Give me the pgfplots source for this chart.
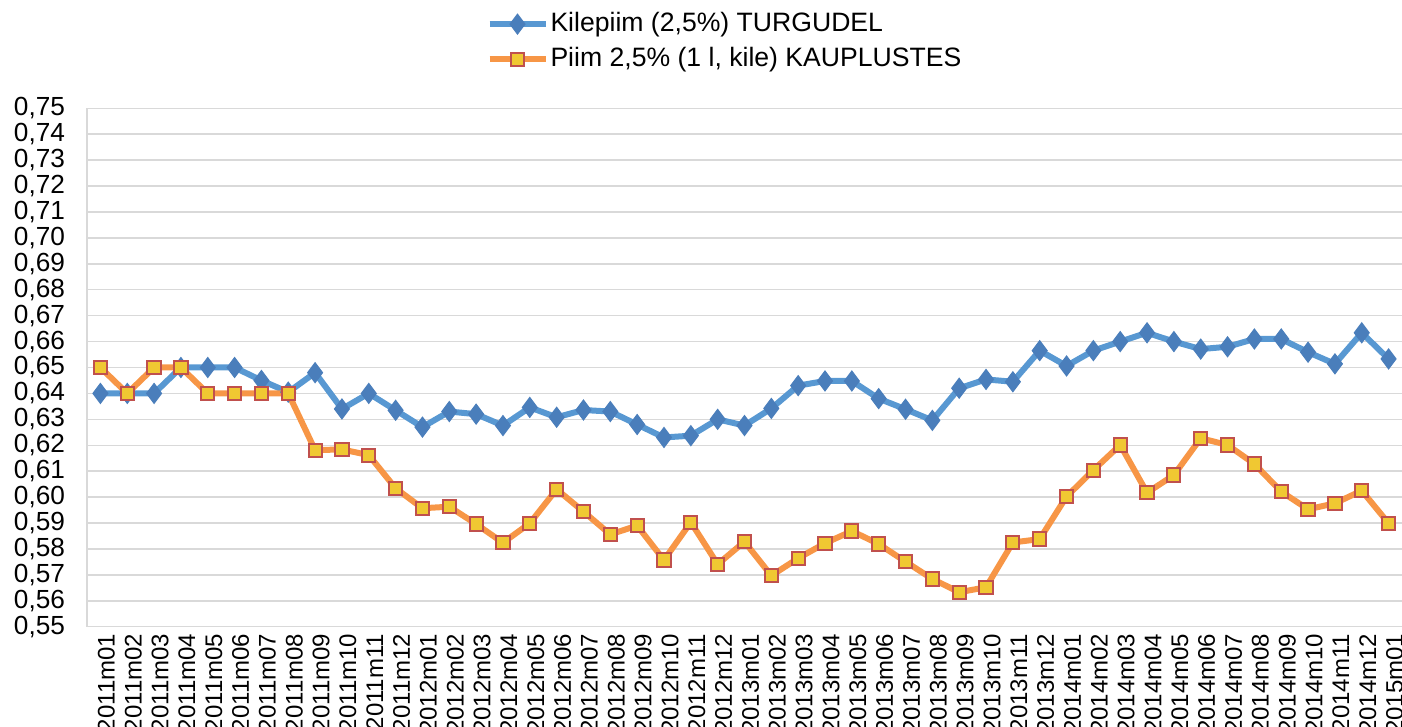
\documentclass[border=0pt]{standalone}
\usepackage{fontspec}
\setmainfont{Liberation Sans}
\usepackage{pgfplots}
\pgfplotsset{compat=1.18}
\definecolor{blueline}{RGB}{88,152,210}
\definecolor{bluemark}{RGB}{74,126,187}
\definecolor{orangeline}{RGB}{247,150,70}
\definecolor{sqfill}{RGB}{240,200,50}
\definecolor{sqdraw}{RGB}{192,80,77}
\definecolor{gridgray}{RGB}{217,217,217}
\begin{document}
\begin{tikzpicture}
\useasboundingbox (0,0) rectangle (701pt,363.5pt);
\begin{axis}[
  at={(43.5pt,50.15pt)}, anchor=south west,
  scale only axis, width=657.5pt, height=259.2pt,
  xmin=-0.5, xmax=48.5, ymin=0.55, ymax=0.75,
  clip=false,
  axis x line*=bottom, axis y line*=left,
  axis line style={draw=gridgray, line width=0.75pt, -},
  major tick length=0pt,
  ymajorgrids, grid style={draw=gridgray, line width=0.75pt},
  ytick={0.55,0.56,0.57,0.58,0.59,0.60,0.61,0.62,0.63,0.64,0.65,0.66,0.67,0.68,0.69,0.70,0.71,0.72,0.73,0.74,0.75},
  /pgf/number format/assume math mode=true,
  yticklabel style={/pgf/number format/fixed, /pgf/number format/fixed zerofill, /pgf/number format/precision=2, /pgf/number format/use comma,
    font=\fontsize{13.1}{14}\selectfont, xshift=-7.5pt},
  xtick={0,...,48},
  xticklabels={2011m01,2011m02,2011m03,2011m04,2011m05,2011m06,2011m07,2011m08,2011m09,2011m10,2011m11,2011m12,2012m01,2012m02,2012m03,2012m04,2012m05,2012m06,2012m07,2012m08,2012m09,2012m10,2012m11,2012m12,2013m01,2013m02,2013m03,2013m04,2013m05,2013m06,2013m07,2013m08,2013m09,2013m10,2013m11,2013m12,2014m01,2014m02,2014m03,2014m04,2014m05,2014m06,2014m07,2014m08,2014m09,2014m10,2014m11,2014m12,2015m01},
  xticklabel style={rotate=90, anchor=east, font=\fontsize{12}{13}\selectfont, yshift=-3pt},
  legend cell align=left,
  legend style={at={(0.3035,1.192)}, anchor=north west, draw=none, fill=none, inner sep=0pt,
    font=\fontsize{13.3}{14}\selectfont, row sep=2.5pt,
    nodes={inner sep=1pt, text height=10pt, text depth=3pt}},
  legend image code/.code={\draw[#1, mark repeat=2, mark phase=2] plot coordinates {(0pt,0pt) (14pt,0pt) (28pt,0pt)};},
]
\addplot[blueline, line width=3pt, mark=diamond*, mark size=5pt,
  mark options={fill=bluemark, draw=bluemark, line width=0.5pt}] coordinates {
(0,0.640) (1,0.640) (2,0.640) (3,0.650) (4,0.650) (5,0.650) (6,0.645) (7,0.6405)
(8,0.648) (9,0.634) (10,0.640) (11,0.6335) (12,0.627) (13,0.633) (14,0.632) (15,0.6276)
(16,0.6346) (17,0.6308) (18,0.6336) (19,0.6330) (20,0.628) (21,0.623) (22,0.6237) (23,0.630)
(24,0.6276) (25,0.6342) (26,0.643) (27,0.6448) (28,0.6448) (29,0.638) (30,0.6339) (31,0.6296)
(32,0.642) (33,0.6454) (34,0.6445) (35,0.6565) (36,0.6506) (37,0.6565) (38,0.660) (39,0.6634)
(40,0.660) (41,0.6571) (42,0.658) (43,0.661) (44,0.661) (45,0.6559) (46,0.6514) (47,0.6634)
(48,0.6533)};
\addlegendentry{Kilepiim (2,5\%) TURGUDEL}
\addplot[orangeline, line width=3pt, mark=square*, mark size=3.3pt,
  mark options={fill=sqfill, draw=sqdraw, line width=1pt}] coordinates {
(0,0.650) (1,0.640) (2,0.650) (3,0.650) (4,0.640) (5,0.640) (6,0.640) (7,0.640)
(8,0.6181) (9,0.6184) (10,0.6162) (11,0.6034) (12,0.5957) (13,0.5963) (14,0.5896) (15,0.5824)
(16,0.5899) (17,0.6030) (18,0.5944) (19,0.5856) (20,0.5890) (21,0.5757) (22,0.5903) (23,0.5741)
(24,0.5828) (25,0.5697) (26,0.5764) (27,0.5822) (28,0.5869) (29,0.5819) (30,0.5751) (31,0.5684)
(32,0.5633) (33,0.5652) (34,0.5825) (35,0.5838) (36,0.6002) (37,0.6104) (38,0.6201) (39,0.6017)
(40,0.6085) (41,0.6227) (42,0.6201) (43,0.6128) (44,0.6021) (45,0.5953) (46,0.5976) (47,0.6025)
(48,0.5899)};
\addlegendentry{Piim 2,5\% (1 l, kile) KAUPLUSTES}
\end{axis}
\end{tikzpicture}
\end{document}
